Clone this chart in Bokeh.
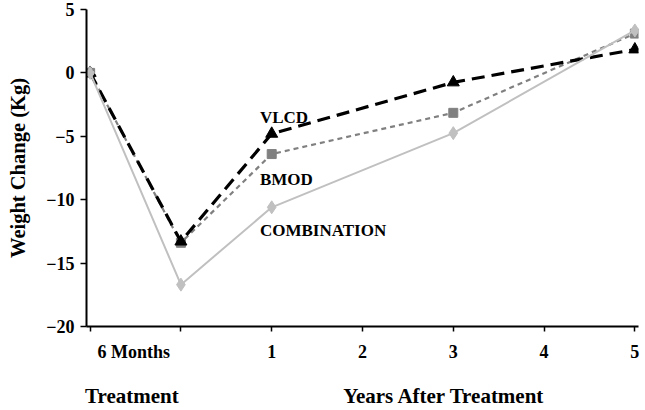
from bokeh.plotting import figure
from bokeh.models import Range1d, FixedTicker, LinearAxis, Label
from bokeh.embed import file_html
from bokeh.resources import INLINE

# x positions: 0 = baseline, 1 = 6 months (end of treatment), 2..6 = years 1..5 after
x_pos = [0, 1, 2, 4, 6]
vlcd = [0, -13.3, -4.8, -0.75, 1.85]
bmod = [0, -13.4, -6.4, -3.15, 3.1]
combo = [0, -16.7, -10.6, -4.75, 3.35]

tick_positions = [0, 1, 2, 3, 4, 5, 6]
row_label_pos = [0.48, 2, 3, 4, 5, 6]
row_labels = ["6 Months", "1", "2", "3", "4", "5"]
group_pos = [0.46, 3.9]
group_labels = ["Treatment", "Years After Treatment"]
y_ticks = [-20, -15, -10, -5, 0, 5]

FONT = "Liberation Serif"

p = figure(width=645, height=410, output_backend="svg", toolbar_location=None,
           x_range=Range1d(-0.04, 6.04), y_range=Range1d(-20, 5),
           x_axis_location=None, min_border_left=86, min_border_right=7,
           min_border_top=9, min_border_bottom=83)
p.outline_line_color = None
p.grid.visible = False
p.background_fill_color = "white"
p.border_fill_color = "white"

# y axis
ya = p.yaxis[0]
ya.ticker = FixedTicker(ticks=y_ticks)
ya.minor_tick_line_color = None
ya.major_tick_in = 0
ya.major_tick_out = 6
ya.axis_line_color = "black"
ya.axis_line_width = 2
ya.major_tick_line_width = 1.5
ya.major_tick_line_color = "black"
ya.major_label_text_font = FONT
ya.major_label_text_font_style = "bold"
ya.major_label_text_font_size = "18px"
ya.major_label_text_color = "black"
ya.major_label_standoff = 6
ya.axis_label = "Weight Change (Kg)"
ya.axis_label_text_font = FONT
ya.axis_label_text_font_style = "bold"
ya.axis_label_text_font_size = "20.5px"
ya.axis_label_text_color = "black"
ya.axis_label_standoff = 14


def plain_axis(ticks, labels, size, standoff):
    ax = LinearAxis(ticker=FixedTicker(ticks=ticks))
    ax.major_label_overrides = dict(zip(ticks, labels))
    ax.axis_line_color = None
    ax.major_tick_line_color = None
    ax.minor_tick_line_color = None
    ax.major_label_text_font = FONT
    ax.major_label_text_font_style = "bold"
    ax.major_label_text_font_size = size
    ax.major_label_text_color = "black"
    ax.major_label_standoff = standoff
    ax.axis_label_standoff = 0
    return ax


# x axis: tick marks only
xa1 = LinearAxis(ticker=FixedTicker(ticks=tick_positions))
xa1.major_label_overrides = {t: "" for t in tick_positions}
xa1.major_label_text_font_size = "1px"
xa1.major_label_standoff = 0
xa1.axis_label_standoff = 0
xa1.minor_tick_line_color = None
xa1.major_tick_in = 0
xa1.major_tick_out = 5
xa1.axis_line_width = 2
xa1.axis_line_color = "black"
xa1.major_tick_line_width = 1.5
xa1.major_tick_line_color = "black"
p.add_layout(xa1, "below")

# x axis row: category labels
p.add_layout(plain_axis(row_label_pos, row_labels, "18px", 4), "below")
# x axis row: group labels
p.add_layout(plain_axis(group_pos, group_labels, "21px", 13), "below")

# series: BMOD, VLCD, COMBINATION (drawing order)
p.line(x_pos, bmod, line_color="#808080", line_width=2.2, line_dash="5 4")
p.scatter(x_pos, bmod, marker="square", size=9, fill_color="#808080", line_color="#808080")

p.line(x_pos, vlcd, line_color="black", line_width=3.2, line_dash="13 7")
p.scatter(x_pos, vlcd, marker="triangle", size=12, fill_color="black", line_color="black")

p.line(x_pos, combo, line_color="#c0c0c0", line_width=2)
p.scatter(x_pos, combo, marker="diamond", size=13, fill_color="#c0c0c0", line_color="#c0c0c0")

for txt, yv in [("VLCD", -3.5), ("BMOD", -8.4), ("COMBINATION", -12.4)]:
    p.add_layout(Label(x=1.87, y=yv, text=txt, text_font=FONT, text_font_style="bold",
                       text_font_size="17px", text_baseline="middle", text_color="black"))

open("out.html", "w").write(file_html(p, INLINE))
